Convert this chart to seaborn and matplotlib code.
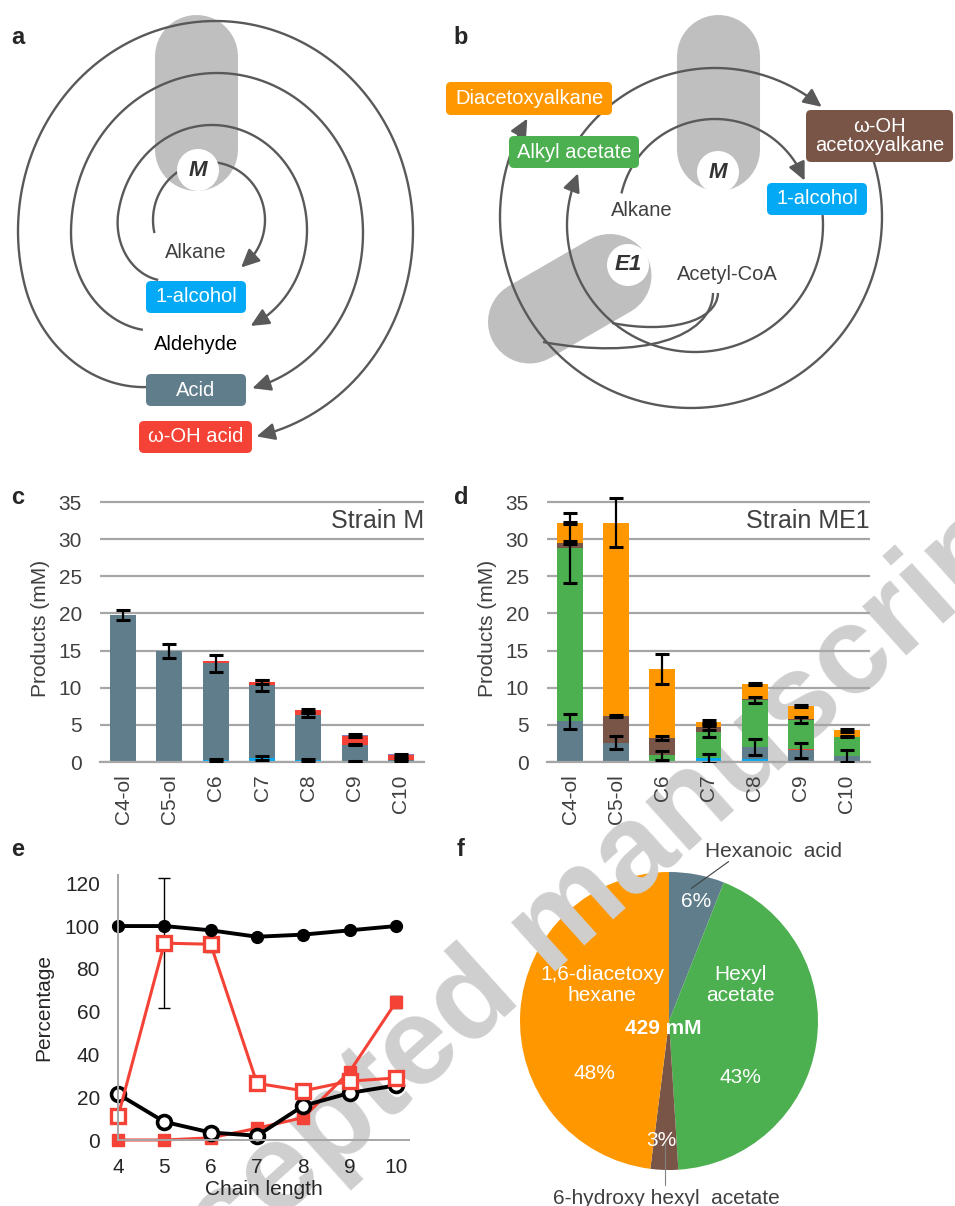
import numpy as np
import matplotlib
matplotlib.use("Agg")
import matplotlib.pyplot as plt
import seaborn as sns
from matplotlib.patches import FancyBboxPatch, Circle
from matplotlib.path import Path
from matplotlib.patches import PathPatch

# ===== Data =====
cats = ["C4-ol", "C5-ol", "C6", "C7", "C8", "C9", "C10"]

# c: strain M, segment heights (mM), bottom to top
m_alcohol = [0.0, 0.0, 0.3, 0.5, 0.3, 0.1, 0.0]
m_acid = [19.8, 15.0, 13.0, 9.8, 6.0, 2.25, 0.3]
m_ohacid = [0.0, 0.0, 0.25, 0.5, 0.65, 1.2, 0.6]
m_other = [0.0, 0.0, 0.0, 0.0, 0.0, 0.15, 0.2]
m_alcohol_err = [0, 0, 0.1, 0.25, 0.1, 0.05, 0]
m_acid_err = [0.7, 0.95, 1.15, 0.7, 0.3, 0.1, 0.1]
m_ohacid_err = [0, 0, 0, 0.3, 0.2, 0.2, 0.2]

# d: strain ME1, segment heights (mM), bottom to top
me_alcohol = [0.0, 0.0, 0.0, 0.5, 0.45, 0.2, 0.0]
me_acid = [5.5, 2.6, 0.2, 0.0, 1.55, 1.4, 0.8]
me_ohacid = [0.0, 0.0, 0.0, 0.0, 0.0, 0.15, 0.0]
me_alkylac = [23.3, 0.0, 0.7, 3.55, 6.3, 3.85, 2.6]
me_ohacetoxy = [0.7, 3.6, 2.3, 0.65, 0.2, 0.2, 0.0]
me_diacetoxy = [2.7, 26.0, 9.3, 0.75, 2.0, 1.7, 0.9]
me_alcohol_err = [0, 0, 0, 0.6, 0, 0, 0]
me_acid_err = [1.0, 0.9, 0, 0, 1.1, 1.0, 0.8]
me_alkylac_err = [4.7, 0, 0.6, 0.75, 0.4, 0.4, 0.1]
me_ohacetoxy_err = [0.2, 0.1, 0.3, 0.4, 0, 0, 0]
me_diacetoxy_err = [0.15, 3.3, 2.0, 0.2, 0.15, 0.15, 0.2]

# e: percentage vs chain length
chain = [4, 5, 6, 7, 8, 9, 10]
e_filled_circle = [100, 100, 98, 95, 96, 98, 100]
e_open_square = [11, 92, 91.5, 26.5, 23, 27.5, 29]
e_open_circle = [21.5, 8.5, 3.5, 2, 16, 22, 25.5]
e_filled_square = [0, 0, 1, 5.5, 10.5, 32, 64.5]
e_open_square_err = [0, 30.5, 3.5, 0, 0, 0, 0]
e_filled_square_err = [0, 0, 0, 0, 0, 0, 3]

# f: product shares
pie_names = ["Hexanoic acid", "Hexyl acetate", "6-hydroxy hexyl acetate", "1,6-diacetoxy hexane"]
pie_share = [6, 43, 3, 48]
pie_total = "429 mM"

# ===== Colours =====
SLATE = "#607d8b"
GREEN = "#4caf50"
ORANGE = "#ff9800"
BROWN = "#795548"
BLUE = "#03a9f4"
RED = "#f44336"
PURPLE = "#8e7cc3"
LINE = "#595959"
GRAY_TXT = "#404040"

sns.set_style("white")
plt.rcParams["font.family"] = ["Liberation Sans", "DejaVu Sans"]

W, H = 955, 1206
fig = plt.figure(figsize=(W / 100, H / 100), dpi=100)


def px_axes(left, top, right, bottom, z=2):
    ax = fig.add_axes([left / W, 1 - bottom / H, (right - left) / W, (bottom - top) / H])
    ax.set_zorder(z)
    ax.patch.set_alpha(0)
    return ax


# ===== Stacked bars (c, d) =====
def stacked(ax, segments, colors, errs, title):
    tops = np.cumsum(np.array(segments, dtype=float), axis=0)
    # tallest first so lower segments are drawn over it
    for i in range(len(segments) - 1, -1, -1):
        sns.barplot(x=cats, y=tops[i], order=cats, color=colors[i], saturation=1,
                    width=0.56, errorbar=None, linewidth=0, ax=ax)
    pos = np.arange(len(cats))
    for i, err in errs.items():
        err = np.array(err, dtype=float)
        keep = err > 0
        ax.errorbar(pos[keep], tops[i][keep], yerr=err[keep], fmt="none", ecolor="black",
                    elinewidth=1.6, capsize=4.8, capthick=2.2, zorder=5)
    ax.set_ylim(0, 36)
    ax.set_yticks(range(0, 36, 5))
    ax.yaxis.grid(True, color="#a6a6a6", lw=1.6)
    ax.set_axisbelow(True)
    for s in ["left", "top", "right"]:
        ax.spines[s].set_visible(False)
    ax.spines["bottom"].set_color("#a6a6a6")
    ax.spines["bottom"].set_linewidth(1.6)
    ax.set_xticks(np.arange(-0.5, len(cats), 1), minor=True)
    ax.tick_params(axis="x", which="minor", length=6, width=1.6, color="#a6a6a6", direction="out")
    ax.tick_params(axis="x", which="major", length=0, pad=9, labelrotation=90,
                   labelsize=15, labelcolor=GRAY_TXT)
    ax.tick_params(axis="y", length=0, pad=13, labelsize=15, labelcolor=GRAY_TXT)
    ax.set_xlim(-0.5, len(cats) - 0.5)
    ax.set_xlabel("")
    ax.set_ylabel("Products (mM)", fontsize=15, color=GRAY_TXT, labelpad=6)
    ax.text(1.0, 32.4, title, transform=ax.get_yaxis_transform(), ha="right", va="center",
            fontsize=18, color=GRAY_TXT)


ax_c = px_axes(100, 494.6, 424, 762)
stacked(ax_c, [m_alcohol, m_acid, m_ohacid, m_other], [BLUE, SLATE, RED, PURPLE],
        {0: m_alcohol_err, 1: m_acid_err, 2: m_ohacid_err}, "Strain M")

ax_d = px_axes(547, 494.6, 870, 762)
stacked(ax_d, [me_alcohol, me_acid, me_ohacid, me_alkylac, me_ohacetoxy, me_diacetoxy],
        [BLUE, SLATE, RED, GREEN, BROWN, ORANGE],
        {0: me_alcohol_err, 1: me_acid_err, 3: me_alkylac_err, 4: me_ohacetoxy_err,
         5: me_diacetoxy_err}, "Strain ME1")

# ===== Line plot (e) =====
ax_e = px_axes(118, 874.7, 409, 1140)
sns.lineplot(x=chain, y=e_filled_square, color=RED, lw=2.2, marker="s", markersize=9,
             markerfacecolor=RED, markeredgecolor=RED, markeredgewidth=1, clip_on=False, ax=ax_e)
sns.lineplot(x=chain, y=e_open_circle, color="black", lw=2.8, marker="o", markersize=10,
             markerfacecolor="white", markeredgecolor="black", markeredgewidth=2.6, clip_on=False, ax=ax_e)
sns.lineplot(x=chain, y=e_open_square, color=RED, lw=2.2, marker="s", markersize=9.5,
             markerfacecolor="white", markeredgecolor=RED, markeredgewidth=2.4, clip_on=False, ax=ax_e)
sns.lineplot(x=chain, y=e_filled_circle, color="black", lw=2.8, marker="o", markersize=8.5,
             markerfacecolor="black", markeredgecolor="black", markeredgewidth=1, clip_on=False, ax=ax_e)
for vals, err in [(e_open_square, e_open_square_err), (e_filled_square, e_filled_square_err)]:
    err = np.array(err, dtype=float)
    keep = err > 0
    ax_e.errorbar(np.array(chain)[keep], np.array(vals)[keep], yerr=err[keep], fmt="none",
                  ecolor="black", elinewidth=1.0, capsize=4, capthick=1.0, zorder=1)
ax_e.set_xlim(4, 10.28)
ax_e.set_ylim(0, 124)
ax_e.set_yticks(range(0, 121, 20))
ax_e.set_xticks(chain)
for s in ["top", "right"]:
    ax_e.spines[s].set_visible(False)
for s in ["left", "bottom"]:
    ax_e.spines[s].set_color("#a6a6a6")
    ax_e.spines[s].set_linewidth(1.4)
ax_e.tick_params(length=4, width=1.2, color="#a6a6a6", pad=9, labelsize=15, labelcolor="#262626")
ax_e.set_xlabel("Chain length", fontsize=15, color="#262626", labelpad=2)
ax_e.set_ylabel("Percentage", fontsize=15, color="#262626", labelpad=8)

# ===== Pie (f) =====
ax_f = px_axes(520, 872, 818, 1170, z=0)
ax_f.pie(pie_share, colors=[SLATE, GREEN, BROWN, ORANGE], startangle=90, counterclock=False,
         wedgeprops=dict(linewidth=0))
ax_f.set_xlim(-1, 1)
ax_f.set_ylim(-1, 1)
ax_f.set_aspect("equal")
ax_f.axis("off")
pie_txt = dict(color="white", ha="center", va="center", fontsize=15)
ax_f.text(0.18, 0.80, f"{pie_share[0]}%", **pie_txt)
ax_f.text(0.48, 0.24, "Hexyl\nacetate", linespacing=1.15, **pie_txt)
ax_f.text(0.48, -0.38, f"{pie_share[1]}%", **pie_txt)
ax_f.text(-0.05, -0.80, f"{pie_share[2]}%", **pie_txt)
ax_f.text(-0.45, 0.24, "1,6-diacetoxy\nhexane", linespacing=1.15, **pie_txt)
ax_f.text(-0.50, -0.35, f"{pie_share[3]}%", **pie_txt)
ax_f.text(-0.04, -0.05, pie_total, color="white", ha="center", va="center", fontsize=15,
          fontweight="bold")
ax_f.plot([0.15, 0.40], [0.89, 1.07], color=GRAY_TXT, lw=0.8, clip_on=False)
ax_f.text(0.70, 1.14, "Hexanoic  acid", ha="center", va="center", fontsize=15, color=GRAY_TXT)
ax_f.plot([-0.03, -0.03], [-0.82, -1.10], color="#808080", lw=0.8, clip_on=False)
ax_f.text(-0.02, -1.19, "6-hydroxy hexyl  acetate", ha="center", va="center", fontsize=15,
          color=GRAY_TXT)

# ===== Diagrams (a, b) in pixel space =====
ov = fig.add_axes([0, 0, 1, 1])
ov.set_zorder(1)
ov.set_xlim(0, W)
ov.set_ylim(H, 0)
ov.axis("off")


def capsule(p0, p1):
    ov.plot([p0[0], p1[0]], [p0[1], p1[1]], color="#bfbfbf", lw=59.8, solid_capstyle="round",
            zorder=1)


def enzyme(x, y, name):
    ov.add_patch(Circle((x, y), 21, fc="white", ec="none", zorder=3))
    ov.text(x, y, name, ha="center", va="center", fontsize=16, fontweight="bold",
            fontstyle="italic", color="#333333", zorder=3.5)


def arc(cx, cy, rx, ry, t0, t1, s0=1.0, blend=50.0):
    t = np.linspace(t0, t1, 800)
    d = np.abs(t - t0)
    s = np.where(d < blend, 1 - (1 - s0) * (1 - d / blend) ** 2, 1.0)
    x = cx + rx * s * np.cos(np.radians(t))
    y = cy - ry * s * np.sin(np.radians(t))
    back = np.hypot(x - x[-1], y - y[-1])
    k = np.where(back > 14)[0][-1]
    ov.plot(x[:k + 1], y[:k + 1], color=LINE, lw=1.7, zorder=2, solid_capstyle="butt")
    ov.annotate("", xy=(x[-1], y[-1]), xytext=(x[k], y[k]),
                arrowprops=dict(arrowstyle="-|>,head_length=0.55,head_width=0.26", color=LINE,
                                lw=1.7, shrinkA=0, shrinkB=0, mutation_scale=20), zorder=2)


def bez(pts):
    path = Path(pts, [Path.MOVETO, Path.CURVE4, Path.CURVE4, Path.CURVE4])
    ov.add_patch(PathPatch(path, fc="none", ec=LINE, lw=1.7, zorder=2))


def box(x0, y0, x1, y1, color, text):
    ov.add_patch(FancyBboxPatch((x0, y0), x1 - x0, y1 - y0, boxstyle="round,pad=0,rounding_size=5",
                                fc=color, ec="none", zorder=4))
    ov.text((x0 + x1) / 2, (y0 + y1) / 2, text, color="white", ha="center", va="center",
            fontsize=14.5, linespacing=1.05, zorder=5)


# panel a
capsule((195.5, 55.5), (195.5, 148.5))
arc(209, 220, 56, 58, 193, -55)
arc(212, 230, 95, 105, 220, -66, s0=0.74)
arc(217, 233, 146, 160, 230, -76, s0=0.79)
arc(215.5, 231, 197.5, 210, 245, -78, s0=0.82)
enzyme(198, 170, "M")
ov.text(196, 252, "Alkane", ha="center", va="center", fontsize=14.5, color=GRAY_TXT, zorder=5)
box(146, 281, 246, 313, BLUE, "1-alcohol")
ov.text(196, 344, "Aldehyde", ha="center", va="center", fontsize=14.5, color="black", zorder=5)
box(146, 374, 246, 406, SLATE, "Acid")
box(139, 421, 252, 453, RED, "\u03c9-OH acid")

# panel b
capsule((717.5, 56), (717.5, 149))
capsule((610, 275.5), (529.5, 322))
arc(715, 215, 96, 96, 167, 21)
arc(695, 225, 128, 127, 5, -204)
arc(715, 234, 166, 166, 150, 50)
arc(691, 217, 191, 191, 17, -211)
bez([(718, 293), (717, 322), (668, 334), (612, 323)])
bez([(713, 293), (712, 338), (640, 360), (543, 342)])
enzyme(718, 172, "M")
enzyme(628, 265, "E1")
ov.text(642, 210, "Alkane", ha="center", va="center", fontsize=14.5, color=GRAY_TXT, zorder=5)
ov.text(727, 275, "Acetyl-CoA", ha="center", va="center", fontsize=14.5, color=GRAY_TXT, zorder=5)
box(446, 82, 612, 115, ORANGE, "Diacetoxyalkane")
box(509, 136, 639, 168, GREEN, "Alkyl acetate")
box(806, 110, 953, 162, BROWN, "\u03c9-OH\nacetoxyalkane")
box(767, 183, 867, 215, BLUE, "1-alcohol")

# panel letters
for lab, x, y in [("a", 18, 37), ("b", 461, 37), ("c", 18, 497), ("d", 461, 497),
                  ("e", 18, 849), ("f", 461, 849)]:
    ov.text(x, y, lab, ha="center", va="center", fontsize=17, fontweight="bold", color="#262626")

# watermark (sits above the pie, below the line/bar charts)
ov.text(578, 951, "Accepted manuscript", ha="center", va="baseline", rotation=42,
        rotation_mode="anchor", fontsize=90, fontweight="bold", color="#cfcfcf", zorder=10)

fig.savefig("out.png", dpi=100)
